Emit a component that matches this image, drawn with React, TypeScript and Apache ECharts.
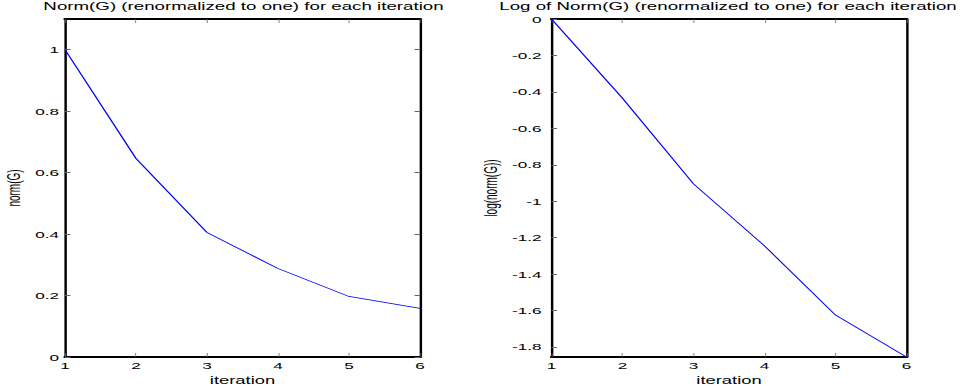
import React, { useEffect, useRef } from "react";
import * as echarts from "echarts";

const iterations = [1, 2, 3, 4, 5, 6];
const normValues = [1, 0.646, 0.405, 0.288, 0.197, 0.158];
const logNormValues = [0, -0.435, -0.905, -1.245, -1.625, -1.855];
const leftTicks = [0, 0.2, 0.4, 0.6, 0.8, 1];
const rightTicks = [-1.8, -1.6, -1.4, -1.2, -1, -0.8, -0.6, -0.4, -0.2, 0];
const leftTitle = "Norm(G) (renormalized to one) for each iteration";
const rightTitle = "Log of Norm(G) (renormalized to one) for each iteration";
const xName = "iteration";
const leftYName = "norm(G)";
const rightYName = "log(norm(G))";

const W = 964;
const H = 387;
const SX = 1.75; // horizontal stretch of the reference
const fx = (v: number) => v / SX;
const FONT = "'Liberation Sans', Arial, Helvetica, sans-serif";

function xAxes(gridIndex: number) {
  const common = {
    type: "value" as const,
    gridIndex,
    min: 1,
    max: 6,
    interval: 1,
    splitLine: { show: false },
    axisLine: { show: true, onZero: false, lineStyle: { color: "#000", width: 2 } },
    axisTick: { show: true, inside: true, length: 4, lineStyle: { color: "#666", width: 1 / SX } },
  };
  return [
    {
      ...common,
      position: "bottom",
      name: xName,
      nameLocation: "middle",
      nameGap: 10,
      nameTextStyle: { color: "#000", fontSize: 10.5, fontFamily: FONT },
      axisLabel: { color: "#000", fontSize: 9.8, fontFamily: FONT, margin: 3 },
    },
    { ...common, position: "top", axisLabel: { show: false } },
  ];
}

function yAxes(gridIndex: number, min: number | string, max: number, ticks: number[], name: string, labelGap: number, nameGap: number) {
  const common = {
    type: "value" as const,
    gridIndex,
    min,
    max,
    splitLine: { show: false },
    axisLine: { show: true, onZero: false, lineStyle: { color: "#000", width: 1.4 } },
    axisTick: { show: true, inside: true, length: fx(5.5), customValues: ticks, lineStyle: { color: "#666", width: 1 } },
  };
  return [
    {
      ...common,
      position: "left",
      name,
      nameLocation: "middle",
      nameRotate: 90,
      nameGap,
      nameTextStyle: { color: "#000", fontSize: 10, fontFamily: FONT },
      axisLabel: { color: "#000", fontSize: 9.8, fontFamily: FONT, margin: labelGap, customValues: ticks },
    },
    { ...common, position: "right", axisLabel: { show: false } },
  ];
}

export default function App() {
  const ref = useRef<HTMLDivElement>(null);
  useEffect(() => {
    if (!ref.current) return;
    const chart = echarts.init(ref.current, null, { renderer: "svg" });
    const titleStyle = { color: "#000", fontSize: 10.7, fontWeight: "normal" as const, fontFamily: FONT };
    chart.setOption({
      animation: false,
      backgroundColor: "#fff",
      title: [
        { text: leftTitle, left: fx(243.5), top: 1, textAlign: "center", padding: 0, textStyle: titleStyle },
        { text: rightTitle, left: fx(728), top: 1, textAlign: "center", padding: 0, textStyle: titleStyle },
      ],
      grid: [
        { left: fx(65), top: 19, width: fx(355), height: 338, outerBoundsMode: "none", containLabel: false },
        { left: fx(551.5), top: 19, width: fx(355), height: 338, outerBoundsMode: "none", containLabel: false },
      ],
      xAxis: [...xAxes(0), ...xAxes(1)],
      yAxis: [
        ...yAxes(0, 0, 1.1, leftTicks, leftYName, fx(6), fx(42)),
        ...yAxes(1, "dataMin", 0, rightTicks, rightYName, fx(10), fx(52)),
      ],
      series: [
        {
          type: "line",
          xAxisIndex: 0,
          yAxisIndex: 0,
          data: iterations.map((x, i) => [x, normValues[i]]),
          showSymbol: false,
          lineStyle: { color: "#0000ff", width: 0.8 },
        },
        {
          type: "line",
          xAxisIndex: 2,
          yAxisIndex: 2,
          data: iterations.map((x, i) => [x, logNormValues[i]]),
          showSymbol: false,
          lineStyle: { color: "#0000ff", width: 0.8 },
        },
      ],
    });
    return () => chart.dispose();
  }, []);
  return (
    <div style={{ position: "fixed", left: 0, top: 0, width: W, height: H, overflow: "hidden", background: "#fff" }}>
      <div
        ref={ref}
        style={{ width: W / SX, height: H, transform: `scaleX(${SX})`, transformOrigin: "0 0" }}
      />
    </div>
  );
}
